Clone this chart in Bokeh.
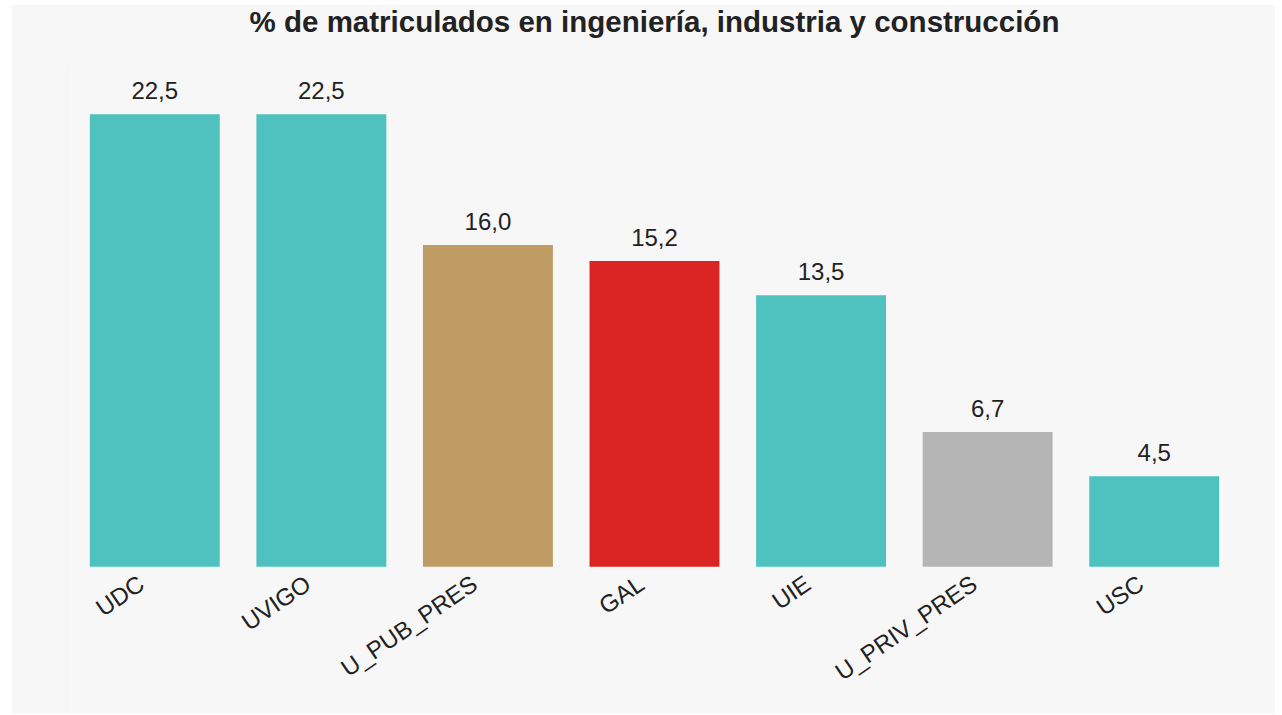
from bokeh.plotting import figure
from bokeh.models import ColumnDataSource, FactorRange, Range1d, LabelSet, Title
from bokeh.core.properties import value
from bokeh.embed import file_html
from bokeh.resources import INLINE

title_text = "% de matriculados en ingeniería, industria y construcción"
categories = ["UDC", "UVIGO", "U_PUB_PRES", "GAL", "UIE", "U_PRIV_PRES", "USC"]
values = [22.5, 22.5, 16.0, 15.2, 13.5, 6.7, 4.5]
value_labels = ["22,5", "22,5", "16,0", "15,2", "13,5", "6,7", "4,5"]
bar_colors = ["#4fc2bf", "#4fc2bf", "#be9c63", "#da2323", "#4fc2bf", "#b5b5b5", "#4fc2bf"]

source = ColumnDataSource(dict(cat=categories, val=values, lab=value_labels, col=bar_colors,
                               zero=[0] * len(categories)))

p = figure(
    x_range=FactorRange(*categories, range_padding=0),
    y_range=Range1d(-7.35, 24.93),
    width=1264, height=710,
    output_backend="svg", toolbar_location=None,
    title=None,
    min_border_left=60, min_border_right=38, min_border_top=52, min_border_bottom=0,
)
p.margin = (4, 7, 0, 11)
p.background_fill_color = "#f7f7f7"
p.border_fill_color = "#f7f7f7"
p.outline_line_color = None

# spacer between the title and the plot area
p.add_layout(Title(text=" ", text_font_size="12px", standoff=10), "above")
p.add_layout(Title(text=title_text, align="center", vertical_align="top",
                   text_font="Liberation Sans", text_font_size="29.5px",
                   text_font_style="bold", text_color="#222222", standoff=0), "above")

p.vbar(x="cat", top="val", bottom=0, width=0.78, fill_color="col", line_color=None, source=source)

labels = LabelSet(x="cat", y="val", text="lab", source=source, y_offset=15,
                  text_align="center", text_baseline="alphabetic",
                  text_font=value("Liberation Sans"), text_font_size="24px", text_color="#222222")
p.add_layout(labels)

cat_labels = LabelSet(x="cat", y="zero", text="cat", source=source, x_offset=-21, y_offset=-3,
                      angle=0.6, text_align="right", text_baseline="top",
                      text_font=value("Liberation Sans"), text_font_size="24px", text_color="#222222")
p.add_layout(cat_labels)

p.yaxis.visible = False
p.xaxis.visible = False
p.xgrid.grid_line_color = None
p.ygrid.grid_line_color = None

open("out.html", "w").write(file_html(p, INLINE))
